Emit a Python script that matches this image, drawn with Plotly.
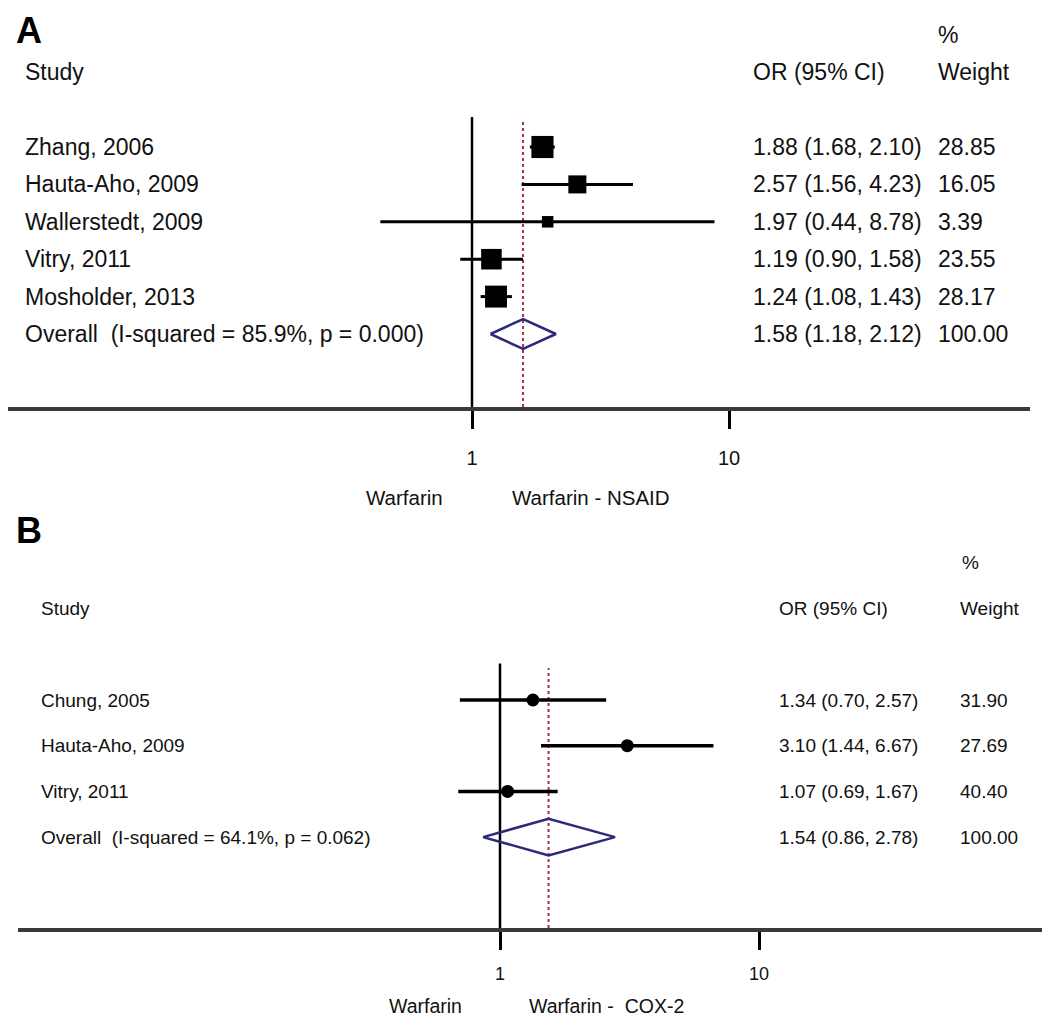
import math
import plotly.graph_objects as go

# ---------------- data ----------------
# Panel A: Warfarin vs Warfarin + NSAID
a_studies = ["Zhang, 2006", "Hauta-Aho, 2009", "Wallerstedt, 2009", "Vitry, 2011", "Mosholder, 2013"]
a_or = [1.88, 2.57, 1.97, 1.19, 1.24]
a_lo = [1.68, 1.56, 0.44, 0.90, 1.08]
a_hi = [2.10, 4.23, 8.78, 1.58, 1.43]
a_weight = [28.85, 16.05, 3.39, 23.55, 28.17]
a_overall = (1.58, 1.18, 2.12)
a_overall_weight = 100.00
a_overall_label = "Overall\u00a0\u00a0(I-squared = 85.9%, p = 0.000)"
a_groups = ["Warfarin", "Warfarin - NSAID"]

# Panel B: Warfarin vs Warfarin + COX-2
b_studies = ["Chung, 2005", "Hauta-Aho, 2009", "Vitry, 2011"]
b_or = [1.34, 3.10, 1.07]
b_lo = [0.70, 1.44, 0.69]
b_hi = [2.57, 6.67, 1.67]
b_weight = [31.90, 27.69, 40.40]
b_overall = (1.54, 0.86, 2.78)
b_overall_weight = 100.00
b_overall_label = "Overall\u00a0\u00a0(I-squared = 64.1%, p = 0.062)"
b_groups = ["Warfarin", "Warfarin -\u00a0\u00a0COX-2"]

tick_vals = [1, 10]
tick_text = ["1", "10"]

# ---------------- layout helpers ----------------
OFF = 8                      # page body margin
W, H = 1050 - OFF, 1020 - OFF
FONT = "Liberation Sans, Arial, Helvetica, sans-serif"


def px_x(p):
    return max(0.0, (p - OFF) / W)


def px_y(p):
    return min(1.0, 1 - (p - OFF) / H)


def log_range(px_left, px_right, px_one, px_decade):
    left = max(px_left, OFF)
    return [(left - px_one) / px_decade, (px_right - px_one) / px_decade]


# panel geometry (screen pixels)
A = dict(ax_left=2, ax_right=1030, x1=472, dec=257, top=8, axis=407, row0=147, step=37.4)
B = dict(ax_left=18, ax_right=1047, x1=500, dec=259, top=520, axis=928, row0=700, step=45.7)


def yval(g, p):
    return (g["row0"] - p) / g["step"]


fig = go.Figure()


def add_panel(g, xa, ya, studies, ors, los, his, weights, overall, overall_w, overall_label,
              symbol, sizes, ci_width, fs, xcols, letter, groups, group_x, group_y, gfs):
    xref = "x" if xa == "xaxis" else "x2"
    yref = "y" if ya == "yaxis" else "y2"
    n = len(studies)
    rows = [-i for i in range(n)]
    orow = -n
    yr = [yval(g, g["axis"]), yval(g, g["top"])]

    # null line and overall line
    fig.add_shape(type="line", xref=xref, yref=yref, x0=1, x1=1, y0=yr[0], y1=0.8,
                  line=dict(color="black", width=2.5), layer="below")
    fig.add_shape(type="line", xref=xref, yref=yref, x0=overall[0], x1=overall[0], y0=yr[0], y1=0.7,
                  line=dict(color="#a3324e", width=2, dash="dot"), layer="below")

    # confidence intervals
    fig.add_trace(go.Scatter(
        x=ors, y=rows, mode="markers", xaxis=xref, yaxis=yref,
        marker=dict(size=1, color="rgba(0,0,0,0)"),
        error_x=dict(type="data", symmetric=False,
                     array=[h - o for h, o in zip(his, ors)],
                     arrayminus=[o - l for o, l in zip(ors, los)],
                     color="black", thickness=ci_width, width=0),
        showlegend=False, hoverinfo="skip"))
    # point estimates on top
    fig.add_trace(go.Scatter(
        x=ors, y=rows, mode="markers", xaxis=xref, yaxis=yref,
        marker=dict(symbol=symbol, size=sizes, color="black", opacity=1, line=dict(width=0)),
        showlegend=False, hoverinfo="skip"))

    # overall diamond
    o, lo, hi = overall
    h = 0.4
    fig.add_trace(go.Scatter(
        x=[lo, o, hi, o, lo], y=[orow, orow + h, orow, orow - h, orow],
        mode="lines", xaxis=xref, yaxis=yref,
        line=dict(color="#2a2a78", width=2.5),
        showlegend=False, hoverinfo="skip"))

    # table text
    sx, ox, wx, pctx = xcols
    tf = dict(family=FONT, size=fs, color="#111111")

    def ann(text, xp, y):
        fig.add_annotation(text=text, xref="paper", yref=yref, x=px_x(xp), y=y,
                           xanchor="left", yanchor="middle", showarrow=False, font=tf)

    ann("Study", sx, 2)
    ann("OR (95% CI)", ox, 2)
    ann("%", pctx, 3)
    ann("Weight", wx, 2)
    for r, s, oo, l, hh, w in zip(rows, studies, ors, los, his, weights):
        ann(s, sx, r)
        ann(f"{oo:.2f} ({l:.2f}, {hh:.2f})", ox, r)
        ann(f"{w:.2f}", wx, r)
    ann(overall_label, sx, orow)
    ann(f"{o:.2f} ({lo:.2f}, {hi:.2f})", ox, orow)
    ann(f"{overall_w:.2f}", wx, orow)

    # panel letter
    fig.add_annotation(text=f"<b>{letter[0]}</b>", xref="paper", yref="paper",
                       x=px_x(14), y=px_y(letter[1]), xanchor="left", yanchor=letter[2],
                       showarrow=False, font=dict(family=FONT, size=36, color="black"))
    # group labels under the axis
    for gtxt, gx in zip(groups, group_x):
        fig.add_annotation(text=gtxt, xref="paper", yref="paper", x=px_x(gx), y=px_y(group_y),
                           xanchor="left", yanchor="middle", showarrow=False,
                           font=dict(family=FONT, size=gfs, color="#111111"))

    return yr


a_sizes = [6 + 3 * math.sqrt(w) for w in a_weight]
b_sizes = [13 for _ in b_weight]

ya_range = add_panel(A, "xaxis", "yaxis", a_studies, a_or, a_lo, a_hi, a_weight, a_overall,
                     a_overall_weight, a_overall_label, "square", a_sizes, 3, 23,
                     (23, 751, 936, 936), ("A", 8, "top"), a_groups, (364, 510), 497, 20.5)
yb_range = add_panel(B, "xaxis2", "yaxis2", b_studies, b_or, b_lo, b_hi, b_weight, b_overall,
                     b_overall_weight, b_overall_label, "circle", b_sizes, 3.5, 19,
                     (39, 777, 958, 960), ("B", 530, "middle"), b_groups, (387, 527), 1006, 19.5)

common_x = dict(type="log", showgrid=False, zeroline=False, showline=True,
                linecolor="#3a3a3a", linewidth=4, ticks="outside", tickvals=tick_vals,
                ticktext=tick_text, tickcolor="black", tickwidth=2.5, ticklen=18,
                fixedrange=True)

fig.update_layout(
    width=W, height=H,
    margin=dict(l=0, r=0, t=0, b=0),
    paper_bgcolor="white", plot_bgcolor="white",
    font=dict(family=FONT, color="#111111"),
    xaxis=dict(**common_x, domain=[px_x(A["ax_left"]), px_x(A["ax_right"])],
               range=log_range(A["ax_left"], A["ax_right"], A["x1"], A["dec"]),
               anchor="y", tickfont=dict(family=FONT, size=20, color="#111111"),
               ticklabelstandoff=12),
    yaxis=dict(domain=[px_y(A["axis"]), px_y(A["top"])], range=ya_range, visible=False,
               fixedrange=True),
    xaxis2=dict(**common_x, domain=[px_x(B["ax_left"]), px_x(B["ax_right"])],
                range=log_range(B["ax_left"], B["ax_right"], B["x1"], B["dec"]),
                anchor="y2", tickfont=dict(family=FONT, size=18, color="#111111"),
                ticklabelstandoff=8),
    yaxis2=dict(domain=[px_y(B["axis"]), px_y(B["top"])], range=yb_range, visible=False,
                fixedrange=True),
)

fig.write_html("out.html", config={"displayModeBar": False})
